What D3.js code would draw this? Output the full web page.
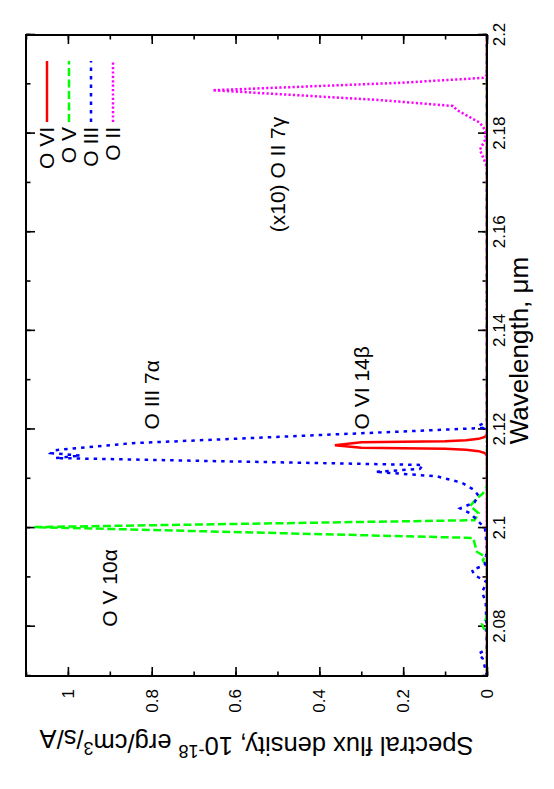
<!DOCTYPE html>
<html>
<head>
<meta charset="utf-8">
<script src="https://cdn.jsdelivr.net/npm/d3@7"></script>
<style>
body { margin: 0; background: #fff; }
text { font-family: "Liberation Sans", Arial, Helvetica, sans-serif; fill: #000; }
</style>
</head>
<body>
<script>
// tick labels
var waveTicks = [2.08, 2.1, 2.12, 2.14, 2.16, 2.18, 2.2];
var fluxTicks = [0, 0.2, 0.4, 0.6, 0.8, 1];

// series names (legend order) and colours
var seriesNames = ["O VI", "O V", "O III", "O II"];
var seriesColors = ["#ff0000", "#00ff00", "#0000ff", "#ff00ff"];

// [wavelength (um), flux]
var oVI = [
  [2.070, 0], [2.1147, 0], [2.1152, 0.005], [2.1156, 0.02], [2.1159, 0.05],
  [2.1161, 0.1], [2.1162, 0.2], [2.1163, 0.3], [2.1168, 0.363], [2.1174, 0.3],
  [2.1175, 0.2], [2.1176, 0.1], [2.1178, 0.05], [2.1181, 0.02], [2.1185, 0.005],
  [2.1190, 0], [2.200, 0]
];
var oV = [
  [2.070, 0], [2.0790, 0], [2.0797, 0.008], [2.0806, 0.012], [2.0814, 0.003],
  [2.0830, 0], [2.0920, 0], [2.0935, 0.01], [2.0942, 0.005], [2.0952, 0.024],
  [2.0980, 0.033], [2.1002, 1.08], [2.1016, 0.03], [2.1030, 0.02], [2.1045, 0.04],
  [2.1060, 0.025], [2.1070, 0.01], [2.1085, 0], [2.200, 0]
];
var oIII = [
  [2.070, 0], [2.0735, 0.01], [2.0745, 0.02], [2.0755, 0], [2.0850, 0.003],
  [2.0870, 0.012], [2.0890, 0], [2.0905, 0.03], [2.0915, 0.036], [2.0925, 0.005],
  [2.0960, 0], [2.1000, 0.005], [2.1030, 0.04], [2.1040, 0.064], [2.1052, 0.03],
  [2.1065, 0.02], [2.1077, 0.03], [2.1092, 0.06], [2.1105, 0.12], [2.1114, 0.267],
  [2.1120, 0.16], [2.1128, 0.153], [2.1135, 0.6], [2.1142, 1.03], [2.1147, 0.97],
  [2.1152, 1.04], [2.1158, 1.03], [2.1172, 0.85], [2.1203, 0.01], [2.1208, 0.02],
  [2.1215, 0], [2.200, 0]
];
var oII = [
  [2.070, 0], [2.1700, 0], [2.1733, 0], [2.1767, 0.017], [2.1790, 0.003],
  [2.1808, 0.005], [2.1822, 0.017], [2.1848, 0.072], [2.1856, 0.081], [2.1868, 0.255],
  [2.1888, 0.655], [2.1903, 0.208], [2.1913, 0.01], [2.1919, 0], [2.200, 0]
];
var seriesData = [oVI, oV, oIII, oII];

// line annotations
var labelText = ["O V 10\u03b1", "O III 7\u03b1", "O VI 14\u03b2", "(x10) O II 7\u03b3"];
var labelWave = [2.08, 2.12, 2.12, 2.16];
var labelFlux = [0.9, 0.8, 0.3, 0.5];

var W = 554, H = 789;
// plot drawn as a normal chart, then turned a quarter turn on the page
var width = 641, height = 461;

var svg = d3.select("body").append("svg")
  .attr("width", W)
  .attr("height", H);

var g = svg.append("g")
  .attr("transform", "translate(26,676) rotate(-90)");

var x = d3.scaleLinear().domain([2.07, 2.2]).range([0, width]);
var y = d3.scaleLinear().domain([0, 1.1]).range([height, 0]);

var minorWave = x.ticks(13);
var minorFlux = y.ticks(11);

function styleAxis(sel) {
  sel.select(".domain").remove();
  sel.selectAll("line").attr("stroke", "#000").attr("stroke-width", 1.6);
  sel.attr("font-family", null).attr("font-size", 17);
}

// wavelength axis (bottom in plot coords)
g.append("g")
  .attr("transform", "translate(0," + height + ")")
  .call(d3.axisBottom(x).tickValues(minorWave).tickSize(-4.5).tickFormat(""))
  .call(styleAxis);
g.append("g")
  .attr("transform", "translate(0," + height + ")")
  .call(d3.axisBottom(x).tickValues(waveTicks).tickSize(-9).tickPadding(6)
    .tickFormat(function(d) { return d3.format("")(d); }))
  .call(styleAxis);
// mirror on top
g.append("g")
  .call(d3.axisTop(x).tickValues(minorWave).tickSize(-4.5).tickFormat(""))
  .call(styleAxis);
g.append("g")
  .call(d3.axisTop(x).tickValues(waveTicks).tickSize(-9).tickFormat(""))
  .call(styleAxis);

// flux axis (left in plot coords)
g.append("g")
  .call(d3.axisLeft(y).tickValues(minorFlux).tickSize(-4.5).tickFormat(""))
  .call(styleAxis);
g.append("g")
  .call(d3.axisLeft(y).tickValues(fluxTicks).tickSize(-9).tickPadding(13)
    .tickFormat(function(d) { return d3.format("")(d); }))
  .call(styleAxis);
g.append("g")
  .attr("transform", "translate(" + width + ",0)")
  .call(d3.axisRight(y).tickValues(minorFlux).tickSize(-4.5).tickFormat(""))
  .call(styleAxis);
g.append("g")
  .attr("transform", "translate(" + width + ",0)")
  .call(d3.axisRight(y).tickValues(fluxTicks).tickSize(-9).tickFormat(""))
  .call(styleAxis);

// clip
g.append("clipPath").attr("id", "clip")
  .append("rect").attr("width", width).attr("height", height);

var line = d3.line()
  .x(function(d) { return x(d[0]); })
  .y(function(d) { return y(d[1]); });

var dashes = [null, "8,3.5", "3.5,5", "2.2,2.2"];

g.append("g").attr("clip-path", "url(#clip)")
  .selectAll("path")
  .data(seriesData)
  .enter().append("path")
    .attr("d", line)
    .attr("fill", "none")
    .attr("stroke", function(d, i) { return seriesColors[i]; })
    .attr("stroke-width", 2.5)
    .attr("stroke-dasharray", function(d, i) { return dashes[i]; });

// frame
g.append("rect")
  .attr("width", width)
  .attr("height", height)
  .attr("fill", "none")
  .attr("stroke", "#000")
  .attr("stroke-width", 2);

// legend
var legend = g.selectAll(".legend")
  .data(seriesNames)
  .enter().append("g")
    .attr("class", "legend")
    .attr("transform", function(d, i) { return "translate(0," + (21 + i * 22) + ")"; });

legend.append("line")
  .attr("x1", 554).attr("x2", 615)
  .attr("stroke", function(d, i) { return seriesColors[i]; })
  .attr("stroke-width", 2.5)
  .attr("stroke-dasharray", function(d, i) { return dashes[i]; });

legend.append("text")
  .attr("x", 549)
  .attr("dy", ".35em")
  .attr("font-size", 21)
  .style("text-anchor", "end")
  .text(function(d) { return d; });

// annotations
g.selectAll(".ann")
  .data(labelText)
  .enter().append("text")
    .attr("class", "ann")
    .attr("x", function(d, i) { return x(labelWave[i]); })
    .attr("y", function(d, i) { return y(labelFlux[i]); })
    .attr("dy", ".35em")
    .attr("font-size", 21)
    .text(function(d) { return d; });

// axis titles
g.append("text")
  .attr("x", width / 2 + 5)
  .attr("y", height + 41)
  .attr("font-size", 26)
  .style("text-anchor", "middle")
  .text("Wavelength, \u03bcm");

var yl = g.append("text")
  .attr("transform", "translate(-61," + (height / 2) + ") rotate(-90)")
  .attr("font-size", 25.5)
  .style("text-anchor", "middle");
yl.append("tspan").text("Spectral flux density, 10");
yl.append("tspan").attr("dy", "-0.45em").attr("font-size", 18).text("-18");
yl.append("tspan").attr("dy", "0.45em").text(" erg/cm");
yl.append("tspan").attr("dy", "-0.45em").attr("font-size", 18).text("3");
yl.append("tspan").attr("dy", "0.45em").text("/s/A");
</script>
</body>
</html>
